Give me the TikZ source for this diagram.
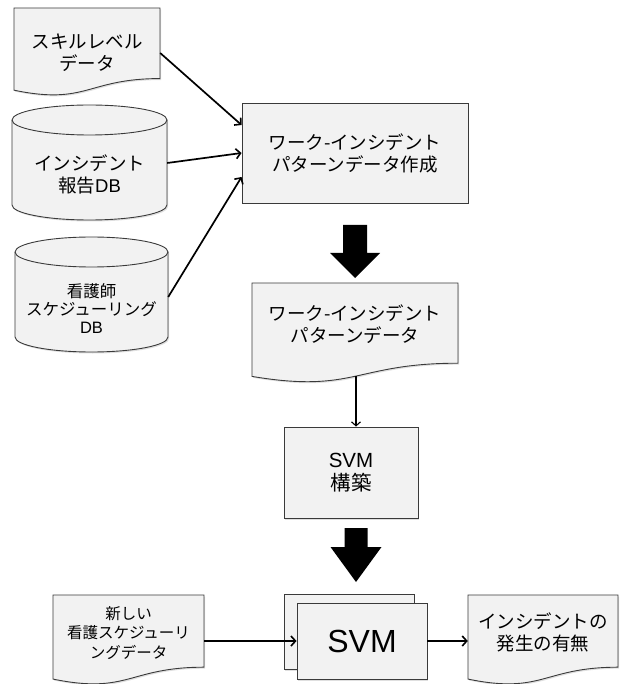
\documentclass[tikz,border=0pt]{standalone}
\usepackage{fontspec}
\setmainfont{Noto Sans CJK JP}
\newfontfamily\lat{Liberation Sans}
\usetikzlibrary{arrows.meta,shadows}
\definecolor{fillg}{HTML}{F2F2F2}
\definecolor{edgeg}{HTML}{3A3A3A}
\newcommand\dbcyl[5]{%
  \pgfmathsetmacro\xm{(#1+#2)/2}\pgfmathsetmacro\rx{(#2-#1)/2}%
  \pgfmathsetmacro\ct{#3+#5}\pgfmathsetmacro\cb{#4-#5}%
  \pgfmathsetmacro\kx{0.5523*\rx}\pgfmathsetmacro\ky{0.5523*#5}%
  \draw[grayshape] (#1,\ct) -- (#1,\cb)
    .. controls (#1,{\cb+\ky}) and ({\xm-\kx},#4) .. (\xm,#4)
    .. controls ({\xm+\kx},#4) and (#2,{\cb+\ky}) .. (#2,\cb)
    -- (#2,\ct)
    .. controls (#2,{\ct-\ky}) and ({\xm+\kx},#3) .. (\xm,#3)
    .. controls ({\xm-\kx},#3) and (#1,{\ct-\ky}) .. (#1,\ct) -- cycle;
  \draw[edgeg,line width=0.9pt] (#1,\ct)
    .. controls (#1,{\ct+\ky}) and ({\xm-\kx},{\ct+#5}) .. (\xm,{\ct+#5})
    .. controls ({\xm+\kx},{\ct+#5}) and (#2,{\ct+\ky}) .. (#2,\ct);
}
\newcommand\docshape[4]{% x1, x2, top, h
  \pgfmathsetmacro\xm{(#1+#2)/2}%
  \pgfmathsetmacro\yr{#3+0.802*#4}\pgfmathsetmacro\yc{#3+1.107*#4}\pgfmathsetmacro\yl{#3+0.934*#4}%
  \draw[grayshape] (#1,#3) -- (#2,#3) -- (#2,\yr)
    .. controls (\xm,\yr) and (\xm,\yc) .. (#1,\yl) -- cycle;
}
\begin{document}
\begin{tikzpicture}[x=1pt,y=-1pt,
  grayshape/.style={fill=fillg,draw=edgeg,line width=0.9pt,
    drop shadow={opacity=0.25,shadow xshift=1.2pt,shadow yshift=-1.5pt}},
  boxnode/.style={grayshape,rectangle,inner sep=0pt},
  txt/.style={align=center,inner sep=0pt,text=black},
  t18/.style={txt,font=\fontsize{18.5}{22}\selectfont},
  t16/.style={txt,font=\fontsize{16.5}{18}\selectfont},
  t15/.style={txt,font=\fontsize{15.5}{19.5}\selectfont},
  conn/.style={line width=1.7pt,-{Straight Barb[length=4.5pt,width=10pt,line width=1.6pt]}},
  thinconn/.style={line width=1.1pt,-{Straight Barb[length=4pt,width=9pt,line width=1.1pt]}},
  bigarrow/.style={fill=black,draw=none}
]
\useasboundingbox (0,0) rectangle (621,684);

% shapes
\docshape{14}{160}{8}{88}
\dbcyl{12}{167}{105}{220}{15}
\dbcyl{15}{168}{237}{352}{15}
\docshape{252}{458}{283}{100}
\docshape{53}{204}{595}{90}
\docshape{468}{618}{595}{90}

% nodes
\node[t18,minimum width=146pt] (doc1) at (87,53) {スキルレベル\\データ};
\node[t18,minimum width=155pt] (cyl1) at (89.5,174) {インシデント\\報告{\lat DB}};
\node[t16,minimum width=153pt] (cyl2) at (91.5,309) {看護師\\スケジューリング\\{\lat DB}};
\node[boxnode,t18,minimum width=226pt,minimum height=100pt] (box1) at (355,153)
  {ワーク-インシデント\\パターンデータ作成};
\node[t18,minimum width=206pt] (doc2) at (355,324) {ワーク-インシデント\\パターンデータ};
\coordinate (doc2b) at (356,376);
\node[boxnode,t18,font=\fontsize{20.5}{23}\selectfont,minimum width=134pt,minimum height=91pt]
  (svmb) at (351,472.5) {{\lat SVM}\\構築};
\node[t15,minimum width=151pt] (doc3) at (128.5,633) {新しい\\看護スケジューリ\\ングデータ};
\node[boxnode,minimum width=130pt,minimum height=75pt] (svmback) at (349,631.5) {};
\node[boxnode,txt,font=\fontsize{32}{36}\selectfont\lat,minimum width=130pt,minimum height=76pt]
  (svm) at (362,641) {SVM};
\node[t18,minimum width=150pt] (doc4) at (543,632) {インシデントの\\発生の有無};

% connectors
\draw[conn] (doc1.east) -- ([yshift=28pt]box1.west);
\draw[conn] ([yshift=11pt]cyl1.east) -- (box1.west);
\draw[conn] ([yshift=12pt]cyl2.east) -- ([yshift=-24pt]box1.west);
\draw[thinconn] (doc2b) -- (doc2b |- svmb.north);
\draw[conn] (doc3.east |- svm.west) -- (svm.west);
\draw[conn] (svm.east) -- (svm.east -| doc4.west);

% big arrows
\fill[bigarrow] (343,225) -- (367,225) -- (367,253) -- (380,253) -- (355,278)
  -- (330,253) -- (343,253) -- cycle;
\fill[bigarrow] (344.5,528) -- (367.5,528) -- (367.5,547) -- (381.5,547) -- (356,582)
  -- (330.5,547) -- (344.5,547) -- cycle;
\end{tikzpicture}
\end{document}
